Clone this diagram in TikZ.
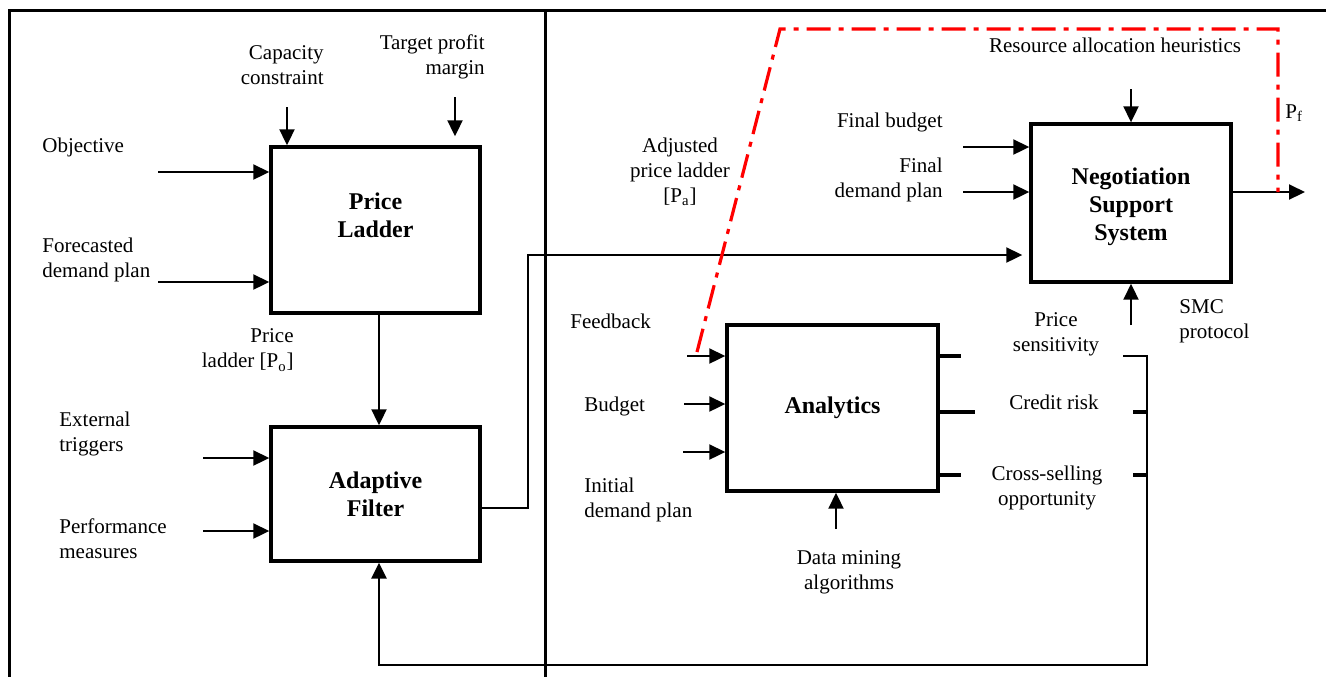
\documentclass[tikz,border=0pt]{standalone}
\usepackage{fontspec}
\setmainfont{Liberation Serif}
\usepackage{tikz}
\usetikzlibrary{arrows.meta, positioning}

\tikzset{
	blk/.style={draw, line width=1.7pt, inner sep=0pt, align=center, font=\fontsize{12}{14}\selectfont\bfseries},
	txt/.style={inner sep=0pt, align=center, font=\fontsize{10.5}{12.5}\selectfont},
	arr/.style={line width=1pt, -{Triangle[length=8pt, width=7.5pt]}},
	stub/.style={line width=1.8pt},
	rdd/.style={red, line width=1.6pt, dash pattern=on 12pt off 4pt on 2.5pt off 4pt},
}

\begin{document}
\begin{tikzpicture}[x=0.5pt, y=-0.5pt]
			\useasboundingbox (0,0) rectangle (1326,677);
			
			\draw [line width=1.5pt] (1326,10) -- (9,10) -- (9,677);
			\draw [line width=1.5pt] (545,10) -- (545,677);
			
			\node [blk, minimum width=104.5pt, minimum height=83pt] (pl) at (375.5,230) {};
			\node [blk, draw=none] (plt) at (375.5,215) {Price\\Ladder};
			\node [blk, minimum width=104.5pt, minimum height=67pt] (af) at (375.5,494) {Adaptive\\Filter};
			\node [blk, minimum width=100pt, minimum height=79pt] (nss) at (1131,203) {};
			\node [blk, draw=none] (nsst) at (1131,207) {Negotiation\\Support\\System};
			\node [blk, minimum width=105.5pt, minimum height=83pt] (an) at (832.5,408) {Analytics};
			
			\begin{scope}[txt]
				\node [anchor=west, align=left] (obj) at (42,147) {Objective};
				\node [anchor=west, align=left] (fdp) at (42,260) {Forecasted\\demand plan};
				\node [anchor=east, align=right] (cap) at (324,65) {Capacity\\constraint};
				\node [anchor=east, align=right] (tpm) at (485,57) {Target profit\\margin};
				\node [anchor=east, align=right] (plo) at (294,350) {Price\\ladder [P\textsubscript{o}]};
				\node [anchor=west, align=left] (ext) at (59,434) {External\\triggers};
				\node [anchor=west, align=left] (perf) at (59,539) {Performance\\measures};
				
				\node (apl) at (680,172) {Adjusted\\price ladder\\{}[P\textsubscript{a}]};
				\node [anchor=east] (fbu) at (943,122) {Final budget};
				\node [anchor=east, align=right] (fdm) at (943,180) {Final\\demand plan};
				\node (rah) at (1115,45) {Resource allocation heuristics};
				\node [anchor=west] (pf) at (1285,113) {P\textsubscript{f}};
				\node [anchor=west, align=left] (smc) at (1179,321) {SMC\\protocol};
				\node [anchor=west] (fbk) at (570,321) {Feedback};
				\node [anchor=west] (bud) at (584,406) {Budget};
				\node [anchor=west, align=left] (idp) at (584,500) {Initial\\demand plan};
				\node (dma) at (849,572) {Data mining\\algorithms};
				\node (pse) at (1056,334) {Price\\sensitivity};
				\node (crk) at (1054,402) {Credit risk};
				\node (cso) at (1047,488) {Cross-selling\\opportunity};
			\end{scope}
			
			\coordinate (objin) at (158,172);
			\coordinate (fdpin) at (158,282);
			\coordinate (capin) at (287,107);
			\coordinate (tpmin) at (455,97);
			\coordinate (extin) at (203,458);
			\coordinate (perfin) at (203,531);
			\coordinate (plx) at (379,0);
			
			\draw [arr] (objin) -- (objin -| pl.west);
			\draw [arr] (fdpin) -- (fdpin -| pl.west);
			\draw [arr] (capin) -- (capin |- pl.north);
			\draw [arr, shorten >=4.5pt] (tpmin) -- (tpmin |- pl.north);
			\draw [arr] (extin) -- (extin -| af.west);
			\draw [arr] (perfin) -- (perfin -| af.west);
			\draw [arr] (plx |- pl.south) -- (plx |- af.north);
			
			\coordinate (afk) at (528,508);
			\coordinate (afu) at (528,255);
			\draw [arr, shorten >=3.5pt] (afk -| af.east) -- (afk) -- (afu) -- (afu -| nss.west);
			
			\coordinate (fbin) at (963,147);
			\coordinate (fdin) at (963,192);
			\coordinate (rain) at (1131,89);
			\coordinate (smcin) at (1131,325);
			\coordinate (nout) at (1305,192);
			\draw [arr] (fbin) -- (fbin -| nss.west);
			\draw [arr] (fdin) -- (fdin -| nss.west);
			\draw [arr] (rain) -- (nss.north);
			\draw [arr] (smcin) -- (nss.south);
			\draw [arr] (nout -| nss.east) -- (nout);
			
			\coordinate (fbkin) at (687,356);
			\coordinate (budin) at (684,404);
			\coordinate (idpin) at (683,452);
			\coordinate (dmin) at (836,529);
			\draw [arr] (fbkin) -- (fbkin -| an.west);
			\draw [arr] (budin) -- (budin -| an.west);
			\draw [arr] (idpin) -- (idpin -| an.west);
			\draw [arr] (dmin) -- (dmin |- an.south);
			
			\coordinate (pso) at (961,356);
			\coordinate (cro) at (975,412);
			\coordinate (cso) at (961,475);
			\draw [stub] (an.east |- pso) -- (pso);
			\draw [stub] (an.east |- cro) -- (cro);
			\draw [stub] (an.east |- cso) -- (cso);
			
			\coordinate (psi) at (1123,356);
			\coordinate (cri) at (1133,412);
			\coordinate (csi) at (1133,475);
			\coordinate (fbc) at (1147,665);
			\draw [stub] (cri) -- (cri -| fbc);
			\draw [stub] (csi) -- (csi -| fbc);
			\draw [arr, line width=1.4pt] (psi) -- (psi -| fbc) -- (fbc) -- (fbc -| plx) -- (plx |- af.south);
			
			\coordinate (ra) at (697,352);
			\coordinate (rb) at (780,29);
			\coordinate (rc) at (1278,29);
			\coordinate (rd) at (1278,192);
			\draw [rdd] (ra) -- (rb) -- (rc) -- (rd);
		\end{tikzpicture}
\end{document}
